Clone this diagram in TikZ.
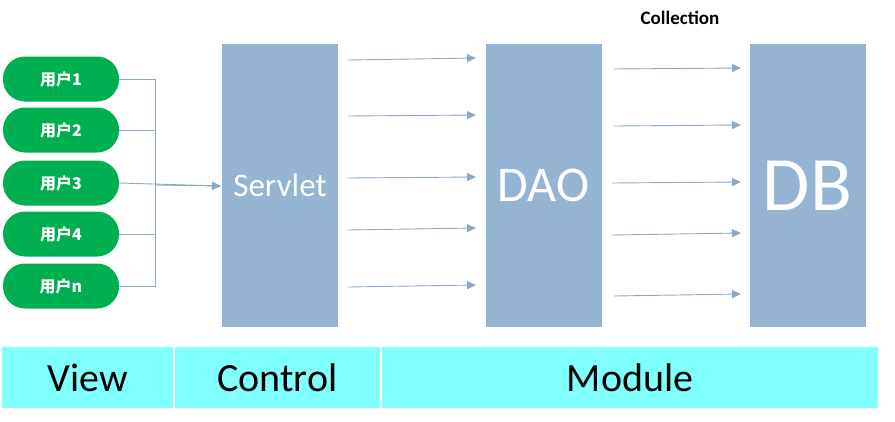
\documentclass[tikz,border=0pt]{standalone}
\usepackage{fontspec}
\setmainfont{Carlito}
\newfontfamily\cjk{Noto Sans CJK SC}
\usetikzlibrary{arrows.meta}
\definecolor{pillgreen}{HTML}{00B050}
\definecolor{boxblue}{HTML}{95B3D3}
\definecolor{linecol}{HTML}{8CA8C6}
\definecolor{barcyan}{HTML}{80FFFF}
\tikzset{
  pill/.style={fill=pillgreen, rounded corners=22pt, minimum width=116pt, minimum height=45pt, inner sep=0pt, text=white, font=\cjk\bfseries\fontsize{16}{18}\selectfont},
  layer/.style={fill=boxblue, minimum width=116pt, minimum height=283pt, inner sep=0pt, text=white},
  cell/.style={fill=barcyan, minimum height=61pt, inner sep=0pt, font=\fontsize{40}{44}\selectfont},
  conn/.style={draw=linecol, line width=0.9pt},
  flow/.style={draw=linecol, line width=0.9pt, -{Triangle[length=9pt,width=8pt]}}
}
\begin{document}
\begin{tikzpicture}[x=1pt,y=-1pt]
\useasboundingbox (0,0) rectangle (895,421);
% users
\node[pill] (u1) at (61,79) {用户1};
\node[pill] (u2) at (61,130) {用户2};
\node[pill] (u3) at (61,183) {用户3};
\node[pill] (u4) at (61,234) {用户4};
\node[pill] (u5) at (61,286) {用户n};
% layers
\node[layer, font=\fontsize{33}{36}\selectfont] (servlet) at (280,185.5) {Servlet};
\node[layer, font=\fontsize{50}{56}\selectfont] (dao) at (543.5,185.5) {DAO};
\node[layer, font=\fontsize{77}{84}\selectfont] (db) at (807.5,185.5) {DB};
\node[font=\bfseries\fontsize{19}{22}\selectfont] (coll) at (680,18) {Collection};
% user connectors
\coordinate (j1) at (155,79);
\coordinate (j2) at (155,130);
\coordinate (j3) at (155,185);
\coordinate (j4) at (155,234);
\coordinate (j5) at (155,286);
\coordinate (st) at (221,186);
\draw[conn] (u1.east) -- (j1) -- (j5) -- (u5.east);
\draw[conn] (u2.east) -- (j2);
\draw[conn] (u4.east) -- (j4);
\draw[flow] (u3.east) -- (st);
\draw[flow] (j3) -- (st);
% servlet -> dao
\foreach \i/\ya/\yb in {1/60/58, 2/116/115, 3/178/177, 4/230/228, 5/287/285}{
  \coordinate (sa\i) at (348,\ya);
  \coordinate (sb\i) at (476,\yb);
  \draw[flow] (sa\i) -- (sb\i);
}
% dao -> db
\foreach \i/\ya/\yb/\xa in {1/69/68/614, 2/126/125/614, 3/183/182/612, 4/235/233/612, 5/296/294/614}{
  \coordinate (da\i) at (\xa,\ya);
  \coordinate (db\i) at (741,\yb);
  \draw[flow] (da\i) -- (db\i);
}
% bottom bar
\node[cell, minimum width=171pt] (view) at (87.5,377.5) {View};
\node[cell, minimum width=205pt] (control) at (277.5,377.5) {Control};
\node[cell, minimum width=496pt] (module) at (630,377.5) {Module};
\end{tikzpicture}
\end{document}
